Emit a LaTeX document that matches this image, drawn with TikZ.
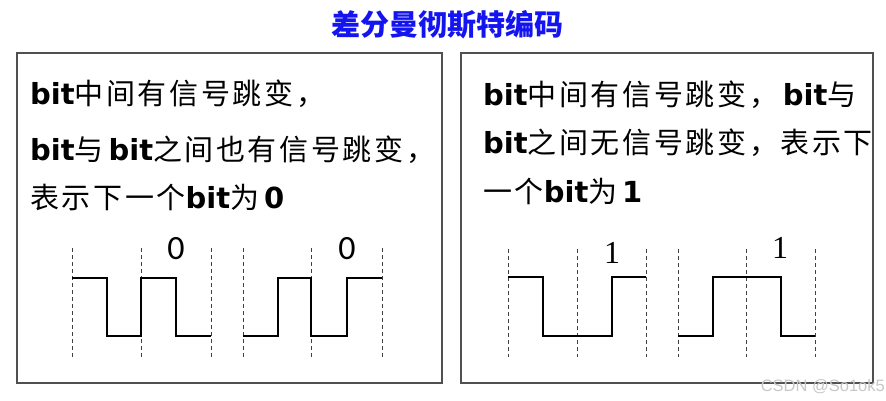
\documentclass[tikz,border=0pt]{standalone}
\usepackage{fontspec}
\usepackage{tikz}

\newfontfamily\cjk{Noto Sans CJK SC}
\newfontfamily\cjkbody[LetterSpace=9]{Noto Sans CJK SC}
\newfontfamily\bitfont{DejaVu Sans}
\newfontfamily\zerofont{Carlito}
\newfontfamily\onefont{Liberation Serif}
\newfontfamily\markfont{Liberation Sans}
\newcommand{\bitw}{{\bitfont\bfseries bit}}
\newcommand{\bitd}[1]{{\bitfont\bfseries #1}}

\definecolor{titleblue}{RGB}{20,20,240}
\definecolor{framegray}{RGB}{80,80,80}

\tikzset{
    txt/.style={inner sep=0pt, anchor=base west, font=\fontsize{29}{29}\selectfont\cjkbody},
    panel/.style={draw=framegray, line width=1.4pt},
    wave/.style={line width=2.4pt, line join=miter},
    tick/.style={dashed, dash pattern=on 4pt off 3pt, line width=1pt, black!75},
}

\begin{document}
\begin{tikzpicture}[x=1pt, y=-1pt]
    \useasboundingbox (0,0) rectangle (886,400);

    % Title
    \node[inner sep=0pt, text=titleblue, font=\fontsize{29}{29}\selectfont\cjk\bfseries] (title) at (447,25) {差分曼彻斯特编码};

    % Two frames
    \draw[panel] (17,53) rectangle (442,383);
    \draw[panel] (461,53) rectangle (873,383);

    % Left frame text
    \node[txt] (ltA) at (30,104) {\bitw 中间有信号跳变，};
    \node[txt] (ltB) at (30,160) {\bitw 与\,\bitw 之间也有信号跳变，};
    \node[txt] (ltC) at (30,208) {表示下一个\bitw 为\,\bitd{0}};

    % Right frame text
    \node[txt] (rtA) at (483,105) {\bitw 中间有信号跳变，\,\bitw 与};
    \node[txt] (rtB) at (483,153) {\bitw 之间无信号跳变，表示下};
    \node[txt] (rtC) at (483,202) {一个\bitw 为\,\bitd{1}};

    % Left frame: bit boundaries
    \draw[tick] (72,248) -- (72,357);
    \draw[tick] (141,248) -- (141,357);
    \draw[tick] (211,248) -- (211,357);
    \draw[tick] (243,248) -- (243,357);
    \draw[tick] (311,248) -- (311,357);
    \draw[tick] (382,248) -- (382,357);

    % Left frame: signals
    \draw[wave] (72,278) -- (107,278) -- (107,336) -- (141,336) -- (141,278)
        -- (176,278) -- (176,336) -- (211,336);
    \draw[wave] (243,336) -- (278,336) -- (278,278) -- (311,278) -- (311,336)
        -- (347,336) -- (347,278) -- (382,278);
    \node[font=\fontsize{34}{34}\selectfont\zerofont, inner sep=0pt] (zeroA) at (176,249) {0};
    \node[font=\fontsize{34}{34}\selectfont\zerofont, inner sep=0pt] (zeroB) at (347,249) {0};

    % Right frame: bit boundaries
    \draw[tick] (508,249) -- (508,357);
    \draw[tick] (577,249) -- (577,357);
    \draw[tick] (646,249) -- (646,357);
    \draw[tick] (678,249) -- (678,357);
    \draw[tick] (746,249) -- (746,357);
    \draw[tick] (815,249) -- (815,357);

    % Right frame: signals
    \draw[wave] (508,277) -- (543,277) -- (543,336) -- (612,336) -- (612,277)
        -- (646,277);
    \draw[wave] (678,336) -- (713,336) -- (713,277) -- (781,277) -- (781,336)
        -- (815,336);
    \node[font=\fontsize{32}{32}\selectfont\onefont, inner sep=0pt] (oneA) at (612,253) {1};
    \node[font=\fontsize{32}{32}\selectfont\onefont, inner sep=0pt] (oneB) at (780,248) {1};

    % Watermark
    \node[inner sep=0pt, anchor=base east, text=black!22, font=\fontsize{16.5}{16.5}\selectfont\markfont] (mark) at (885,391) {CSDN @So1ok5};
\end{tikzpicture}
\end{document}
